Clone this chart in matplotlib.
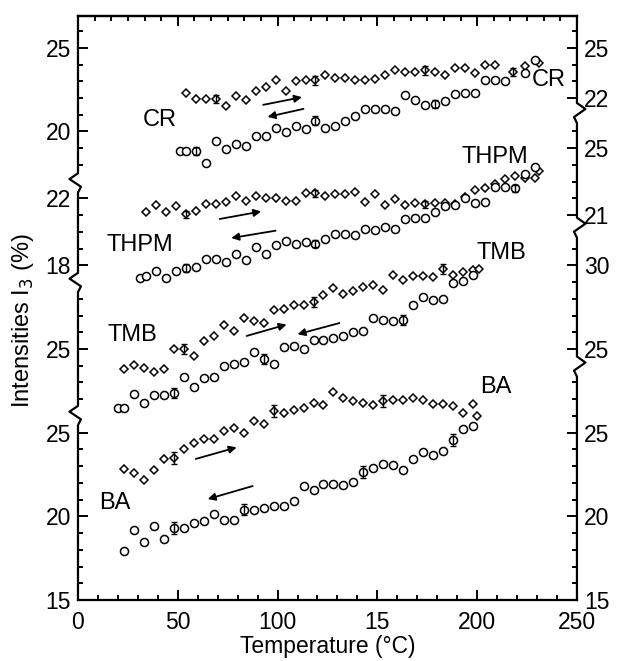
import numpy as np
import matplotlib
matplotlib.use('Agg')
import matplotlib.pyplot as plt
from matplotlib.ticker import FixedLocator

plt.rcParams['font.family'] = ['Liberation Sans', 'DejaVu Sans']

# ---- data (temperature in C, I3 intensity in %) ----
# BA
ba_heat_t = [23, 28, 33, 38, 43, 48, 53, 58, 63, 68, 73, 78, 83, 88, 93, 98, 103, 108, 113, 118,
             123, 128, 133, 138, 143, 148, 153, 158, 163, 168, 173, 178, 183, 188, 193, 198, 200]
ba_heat_i = [22.8, 22.6, 22.2, 22.75, 23.4, 23.5, 24.0, 24.4, 24.6, 24.6, 25.1, 25.3, 24.95, 25.7, 25.5,
             26.3, 26.15, 26.35, 26.5, 26.8, 26.65, 27.4, 27.1, 26.9, 26.8, 26.65, 26.9, 26.95, 26.95,
             27.05, 26.95, 26.7, 26.7, 26.6, 26.15, 26.7, 26.0]
ba_heat_err = [5, 15, 26]
ba_cool_t = [23, 28, 33, 38, 43, 48, 53, 58, 63, 68, 73, 78, 83, 88, 93, 98, 103, 108, 113, 118,
             123, 128, 133, 138, 143, 148, 153, 158, 163, 168, 173, 178, 183, 188, 193, 198]
ba_cool_i = [17.9, 19.2, 18.45, 19.4, 18.65, 19.3, 19.3, 19.6, 19.7, 20.15, 19.8, 19.8, 20.4, 20.4, 20.5,
             20.6, 20.6, 20.9, 21.8, 21.6, 21.95, 21.95, 21.85, 22.05, 22.65, 22.9, 23.15, 23.05, 22.75,
             23.4, 23.85, 23.65, 23.9, 24.55, 25.2, 25.4]
ba_cool_err = [5, 12, 24, 33]

# TMB
tmb_heat_t = [23, 28, 33, 38, 43, 48, 53, 58, 63, 68, 73, 78, 83, 88, 93, 98, 103, 108, 113, 118,
              123, 128, 133, 138, 143, 148, 153, 158, 163, 168, 173, 178, 183, 188, 193, 198, 201]
tmb_heat_i = [23.8, 24.05, 23.85, 23.6, 23.8, 25.0, 25.0, 24.6, 25.5, 25.8, 26.45, 26.1, 26.85, 26.7,
              26.55, 27.35, 27.4, 27.65, 27.6, 27.8, 28.2, 28.65, 28.3, 28.45, 28.7, 28.85, 28.55, 29.45,
              29.15, 29.35, 29.35, 29.3, 29.8, 29.45, 29.6, 29.75, 29.8]
tmb_heat_err = [6, 19, 32]
tmb_cool_t = [20, 23, 28, 33, 38, 43, 48, 53, 58, 63, 68, 73, 78, 83, 88, 93, 98, 103, 108, 113,
              118, 123, 128, 133, 138, 143, 148, 153, 158, 163, 168, 173, 178, 183, 188, 193, 198]
tmb_cool_i = [21.45, 21.45, 22.3, 21.75, 22.25, 22.25, 22.35, 23.35, 22.7, 23.25, 23.35, 24.0, 24.1,
              24.2, 24.8, 24.4, 24.1, 25.1, 25.15, 25.0, 25.55, 25.55, 25.65, 25.8, 26.0, 26.05, 26.85,
              26.75, 26.7, 26.75, 27.6, 28.1, 27.95, 28.0, 28.95, 29.05, 29.4]
tmb_cool_err = [6, 15, 29]

# THPM
thpm_heat_t = [34, 39, 44, 49, 54, 59, 64, 69, 74, 79, 84, 89, 94, 99, 104, 109, 114, 119, 124, 129,
               134, 139, 144, 149, 154, 159, 164, 169, 174, 179, 184, 189, 194, 199, 204, 209, 214,
               219, 224, 229, 231]
thpm_heat_i = [21.2, 21.6, 21.2, 21.55, 21.05, 21.25, 21.65, 21.65, 21.8, 22.15, 21.85, 22.15, 22.05,
               22.05, 21.85, 21.85, 22.35, 22.3, 22.15, 22.25, 22.25, 22.4, 21.8, 22.25, 21.6, 21.95,
               21.6, 21.75, 21.65, 21.7, 21.75, 21.65, 22.1, 22.5, 22.6, 22.85, 23.15, 23.35, 23.2,
               23.2, 23.65]
thpm_heat_err = [4, 17, 28]
thpm_cool_t = [31, 34, 39, 44, 49, 54, 59, 64, 69, 74, 79, 84, 89, 94, 99, 104, 109, 114, 119, 124,
               129, 134, 139, 144, 149, 154, 159, 164, 169, 174, 179, 184, 189, 194, 199, 204, 209,
               214, 219, 224, 229]
thpm_cool_i = [17.25, 17.35, 17.65, 17.25, 17.65, 17.85, 17.9, 18.4, 18.4, 18.2, 18.7, 18.3, 19.1,
               18.7, 19.2, 19.45, 19.3, 19.4, 19.3, 19.6, 19.85, 19.9, 19.8, 20.2, 20.1, 20.3, 20.2,
               20.75, 20.85, 20.8, 21.2, 21.55, 21.6, 22.05, 21.75, 21.8, 22.7, 22.7, 22.6, 23.45, 23.85]
thpm_cool_err = [5, 18, 38]

# CR
cr_heat_t = [54, 59, 64, 69, 74, 79, 84, 89, 94, 99, 104, 109, 114, 119, 124, 129, 134, 139, 144,
             149, 154, 159, 164, 169, 174, 179, 184, 189, 194, 199, 204, 209, 218, 224, 231]
cr_heat_i = [22.3, 21.95, 21.95, 21.95, 21.5, 22.1, 21.85, 22.4, 22.65, 23.1, 22.4, 23.0, 23.1, 23.05,
             23.35, 23.2, 23.2, 23.1, 23.1, 23.15, 23.35, 23.7, 23.55, 23.55, 23.65, 23.55, 23.35, 23.8,
             23.8, 23.5, 23.95, 23.95, 23.55, 23.9, 24.1]
cr_heat_err = [3, 13, 24, 32]
cr_cool_t = [51, 54, 59, 64, 69, 74, 79, 84, 89, 94, 99, 104, 109, 114, 119, 124, 129, 134, 139, 144,
             149, 154, 159, 164, 169, 174, 179, 184, 189, 194, 199, 204, 209, 214, 224, 229]
cr_cool_i = [18.85, 18.85, 18.85, 18.1, 19.45, 18.95, 19.25, 19.15, 19.7, 19.75, 20.2, 19.95, 20.35,
             20.15, 20.65, 20.2, 20.35, 20.65, 20.95, 21.35, 21.35, 21.35, 21.25, 22.15, 21.85, 21.6,
             21.65, 21.8, 22.25, 22.3, 22.3, 23.1, 23.1, 23.0, 23.5, 24.25]
cr_cool_err = [2, 14, 26]

# vertical shift of each curve pair on the stacked plot
shift = {'BA': -15, 'TMB': -10, 'THPM': 2, 'CR': 8}
err_size = {'BA': 0.35, 'TMB': 0.3, 'THPM': 0.22, 'CR': 0.25}

panels = [
    ('BA', ba_heat_t, ba_heat_i, ba_heat_err, ba_cool_t, ba_cool_i, ba_cool_err),
    ('TMB', tmb_heat_t, tmb_heat_i, tmb_heat_err, tmb_cool_t, tmb_cool_i, tmb_cool_err),
    ('THPM', thpm_heat_t, thpm_heat_i, thpm_heat_err, thpm_cool_t, thpm_cool_i, thpm_cool_err),
    ('CR', cr_heat_t, cr_heat_i, cr_heat_err, cr_cool_t, cr_cool_i, cr_cool_err),
]

fig = plt.figure(figsize=(6.17, 6.61), dpi=100)
ax = fig.add_axes([0.1264, 0.0923, 0.8087, 0.8835])
ymax = 34.9
ax.set_xlim(0, 250)
ax.set_ylim(0, ymax)

for name, ht, hi, he, ct, ci, ce in panels:
    off = shift[name]
    ht = np.array(ht); hi = np.array(hi) + off
    ct = np.array(ct); ci = np.array(ci) + off
    ax.plot(ht, hi, 'D', ms=3.6, mfc='white', mec='black', mew=1.1, zorder=3)
    ax.plot(ct, ci, 'o', ms=5.8, mfc='white', mec='black', mew=1.1, zorder=3)
    ax.errorbar(ht[he], hi[he], yerr=err_size[name], fmt='none', ecolor='black',
                elinewidth=1.0, capsize=2.5, capthick=1.0, zorder=4)
    ax.errorbar(ct[ce], ci[ce], yerr=err_size[name], fmt='none', ecolor='black',
                elinewidth=1.0, capsize=2.5, capthick=1.0, zorder=4)

# arrows (heating -> right, cooling <- left)
arrows = [((59, 8.43), (79.5, 9.12)), ((87.5, 6.81), (65, 6.03)),
          ((84.5, 15.78), (104.5, 16.46)), ((131, 16.55), (110, 15.88)),
          ((71, 22.77), (91.8, 23.22)), ((99, 22.07), (76.8, 21.63)),
          ((92.8, 29.59), (112.2, 30.05)), ((113, 29.35), (95, 28.87))]
for tail, head in arrows:
    ax.annotate('', xy=head, xytext=tail,
                arrowprops=dict(arrowstyle='-|>', color='black', lw=1.3,
                                mutation_scale=11, shrinkA=0, shrinkB=0))

lab_kw = dict(ha='center', va='center', fontsize=17)
ax.text(41, 28.7, 'CR', **lab_kw)
ax.text(236, 31.1, 'CR', **lab_kw)
ax.text(31, 21.2, 'THPM', **lab_kw)
ax.text(209, 26.5, 'THPM', **lab_kw)
ax.text(27, 15.85, 'TMB', **lab_kw)
ax.text(212, 20.75, 'TMB', **lab_kw)
ax.text(18.5, 5.8, 'BA', **lab_kw)
ax.text(209.5, 12.75, 'BA', **lab_kw)

# x axis
ax.set_xticks([0, 50, 100, 150, 200, 250])
ax.set_xticklabels(['0', '50', '100', '15', '200', '250'])
ax.xaxis.set_minor_locator(FixedLocator(np.arange(0, 251, 10)))
ax.tick_params(axis='x', which='both', direction='in', labelsize=16.5, pad=8, width=1.4)
ax.tick_params(axis='x', which='major', length=7)
ax.tick_params(axis='x', which='minor', length=3.8)

top = ax.secondary_xaxis('top')
top.set_xticks([0, 50, 100, 150, 200, 250])
top.xaxis.set_minor_locator(FixedLocator(np.arange(0, 251, 50 / 6)))
top.tick_params(axis='x', which='both', direction='in', labeltop=False, width=1.4)
top.tick_params(axis='x', which='major', length=7)
top.tick_params(axis='x', which='minor', length=3.8)
top.spines['top'].set_linewidth(1.6)

# y scales: one per stacked curve pair, broken by zigzags
left_major = [0, 5, 10, 15, 20, 24, 28, 33]
left_labels = ['15', '20', '25', '25', '18', '22', '20', '25']
left_breaks = [(10.45, 11.6), (18.4, 19.55), (24.35, 25.5)]
right_major = [0, 5, 10, 15, 20, 23, 27, 30, 33]
right_labels = ['15', '20', '25', '25', '30', '21', '25', '22', '25']
right_breaks = [(13.35, 14.55), (21.65, 22.85), (28.5, 29.7)]


def minor_list(major, breaks):
    out = []
    for v in range(0, 35):
        if v in major:
            continue
        if any(lo - 0.3 < v < hi + 0.3 for lo, hi in breaks):
            continue
        out.append(v)
    return out


ax.set_yticks(left_major)
ax.set_yticklabels(left_labels)
ax.yaxis.set_minor_locator(FixedLocator(minor_list(left_major, left_breaks)))
ax.tick_params(axis='y', which='both', direction='in', labelsize=16.5, pad=5, width=1.4,
               right=False)
ax.tick_params(axis='y', which='major', length=7)
ax.tick_params(axis='y', which='minor', length=3.8)

rax = ax.twinx()
rax.set_ylim(0, ymax)
rax.set_yticks(right_major)
rax.set_yticklabels(right_labels)
rax.yaxis.set_minor_locator(FixedLocator(minor_list(right_major, right_breaks)))
rax.tick_params(axis='y', which='both', direction='in', labelsize=16.5, pad=5, width=1.4)
rax.tick_params(axis='y', which='major', length=7)
rax.tick_params(axis='y', which='minor', length=3.8)
for s in rax.spines.values():
    s.set_visible(False)

for s in ['left', 'right']:
    ax.spines[s].set_visible(False)
for s in ['top', 'bottom']:
    ax.spines[s].set_linewidth(1.6)

# side spines drawn by hand with the zigzag breaks
for xpos, brk, sign in [(0, left_breaks, -1), (1, right_breaks, 1)]:
    xs, ys = [xpos], [0]
    for lo, hi in brk:
        h = hi - lo
        w = 0.017 * sign
        xs += [xpos, xpos - 0.35 * w, xpos + w, xpos]
        ys += [lo, lo + 0.3 * h, lo + 0.7 * h, hi]
    xs.append(xpos)
    ys.append(ymax)
    ax.plot(xs, ys, color='black', lw=1.6, transform=ax.get_yaxis_transform(),
            clip_on=False, zorder=5)

ax.set_xlabel('Temperature (°C)', fontsize=16.5, labelpad=1)
ax.set_ylabel('Intensities I$_3$ (%)', fontsize=17, labelpad=2)
ax.yaxis.set_label_coords(-0.085, 0.478)

fig.savefig('out.png', dpi=100)
